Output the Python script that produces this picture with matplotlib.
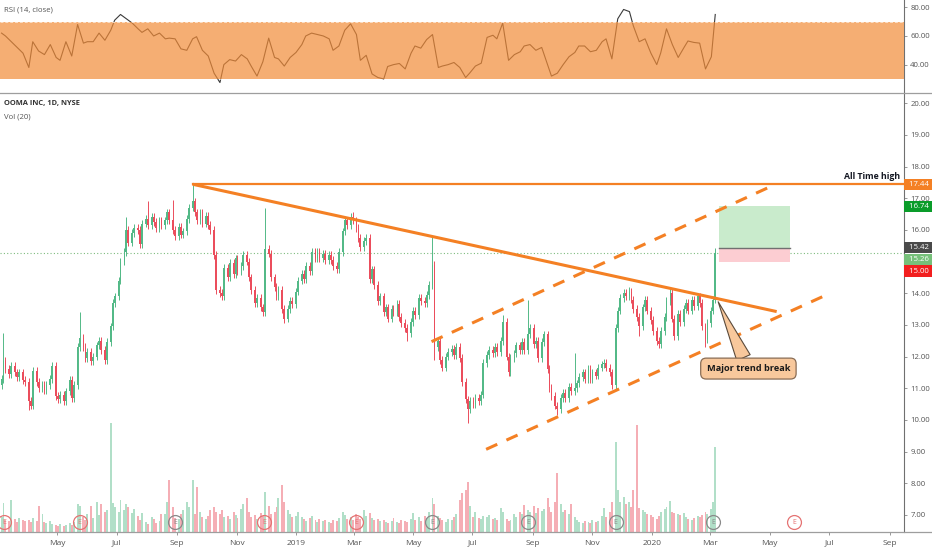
import pandas as pd
import matplotlib
matplotlib.use('Agg')
import matplotlib.pyplot as plt
import matplotlib.dates as mdates
import matplotlib.transforms as mtransforms
from matplotlib.patches import Rectangle
from matplotlib.lines import Line2D

plt.rcParams['font.family'] = ['Open Sans', 'DejaVu Sans']

# ---- data (one value per 2 trading days) ----
start = '2018-03-05'
first_open = 11.1
closes = [
    11.3, 11.85, 11.6, 11.45, 11.7, 11.5, 11.35, 11.5, 11.25, 11.2,
    10.6, 10.45, 11.55, 11.2, 11.0, 11.1, 10.95, 11.1, 11.3, 11.7,
    10.75, 10.65, 10.8, 10.6, 10.9, 11.25, 10.7, 11.1, 12.3, 12.6,
    12.3, 11.95, 12.15, 11.85, 12.0, 12.35, 12.5, 12.2, 11.9, 12.45,
    12.95, 13.7, 13.9, 14.4, 15.0, 15.3, 16.0, 15.6, 15.9, 16.05,
    16.0, 15.55, 16.2, 16.35, 16.15, 16.4, 16.25, 16.05, 16.3, 16.15,
    16.3, 16.55, 16.3, 16.0, 15.8, 16.1, 15.85, 15.95, 16.35, 16.7,
    16.9, 16.55, 16.3, 16.55, 16.2, 16.45, 16.15, 16.0, 15.2, 14.1,
    14.0, 13.9, 14.8, 14.5, 14.95, 14.6, 15.1, 14.7, 14.85, 15.2,
    15.0, 14.5, 14.1, 13.7, 13.85, 13.55, 13.4, 15.4, 15.25, 14.5,
    14.2, 13.9, 14.1, 13.5, 13.2, 13.5, 13.75, 13.65, 14.05, 14.4,
    14.6, 14.45, 14.85, 14.7, 15.3, 15.1, 15.3, 15.1, 15.25, 15.05,
    15.2, 15.05, 14.85, 14.75, 15.3, 15.95, 16.3, 16.15, 16.4, 16.3,
    16.05, 15.75, 15.45, 15.65, 15.75, 14.45, 14.75, 14.25, 13.75, 13.9,
    13.4, 13.55, 13.2, 13.5, 13.4, 13.65, 13.25, 13.05, 12.9, 12.75,
    13.1, 13.45, 13.3, 13.85, 13.75, 13.7, 13.95, 14.25, 14.9, 12.3,
    12.5, 11.9, 11.65, 12.0, 12.15, 12.25, 12.05, 12.3, 11.95, 11.2,
    10.65, 10.35, 10.6, 10.5, 10.7, 10.6, 10.8, 11.8, 12.05, 12.2,
    12.1, 12.3, 12.15, 12.5, 13.1, 12.0, 11.5, 11.95, 12.1, 12.35,
    12.2, 12.45, 12.2, 12.7, 12.9, 12.4, 12.5, 11.95, 12.45, 12.7,
    11.6, 11.0, 10.75, 10.45, 10.35, 10.7, 10.85, 10.7, 11.05, 10.9,
    11.0, 11.15, 11.35, 11.5, 11.3, 11.6, 11.3, 11.5, 11.4, 11.65,
    11.75, 11.8, 11.65, 11.5, 11.1, 12.9, 13.45, 13.85, 14.0, 13.9,
    14.05, 13.8, 13.5, 13.25, 12.95, 13.55, 13.8, 13.45, 13.15, 12.8,
    12.5, 12.4, 12.8, 13.25, 13.75, 14.0, 13.2, 12.65, 13.35, 13.1,
    13.5, 13.7, 13.45, 13.8, 13.6, 13.9, 13.7, 12.95, 12.55, 13.05,
    13.45, 13.8, 15.26,
]
# notable wicks (candle index -> price)
spike_high = {1: 12.75, 29: 13.4, 46: 16.4, 54: 16.9, 63: 16.95, 70: 17.44,
              97: 16.7, 129: 16.55, 158: 15.8, 184: 13.3, 193: 13.8,
              210: 12.1, 230: 14.2, 245: 14.2, 262: 15.42}
spike_low = {10: 10.3, 104: 13.07, 149: 12.5, 159: 11.9, 171: 9.9,
             204: 10.15, 234: 12.65, 258: 12.3}
wick = 0.12

# volume, thousands of shares
volumes = [
    150, 290, 120, 110, 320, 130, 100, 140, 120, 110,
    120, 100, 140, 110, 260, 180, 100, 90, 110, 80,
    70, 60, 80, 60, 70, 90, 70, 100, 280, 260,
    150, 120, 180, 260, 140, 300, 170, 280, 200, 220,
    1090, 290, 250, 200, 320, 220, 280, 250, 190, 230,
    160, 120, 190, 100, 80, 150, 130, 90, 110, 180,
    180, 300, 520, 250, 140, 130, 180, 220, 300, 250,
    520, 180, 450, 200, 150, 130, 160, 220, 250, 200,
    180, 220, 150, 160, 130, 200, 170, 140, 230, 280,
    340, 200, 150, 170, 130, 190, 160, 400, 260, 180,
    200, 250, 340, 470, 300, 220, 180, 150, 160, 200,
    150, 130, 110, 140, 160, 120, 100, 130, 110, 120,
    100, 90, 120, 110, 140, 200, 170, 130, 150, 120,
    180, 150, 130, 220, 160, 190, 140, 120, 130, 110,
    120, 100, 90, 110, 140, 100, 90, 120, 110, 100,
    130, 190, 120, 150, 110, 160, 140, 200, 340, 280,
    160, 140, 120, 100, 130, 120, 150, 180, 320, 390,
    420, 500, 260, 150, 200, 140, 130, 160, 150, 170,
    130, 140, 120, 240, 200, 130, 110, 120, 180, 150,
    200, 180, 270, 220, 200, 260, 190, 240, 210, 230,
    340, 250, 200, 300, 590, 280, 200, 220, 180, 280,
    150, 120, 100, 90, 110, 100, 90, 120, 100, 110,
    160, 240, 150, 200, 300, 900, 420, 300, 350, 280,
    300, 250, 420, 1070, 240, 220, 200, 180, 170, 150,
    130, 160, 200, 230, 250, 310, 200, 190, 180, 170,
    190, 150, 130, 120, 140, 160, 150, 170, 200, 180,
    230, 300, 850,
]

# RSI(14), one value per 4 trading days
rsi = [
    62, 60, 56, 52, 48, 38, 56, 49.5, 47, 54,
    45, 43, 56, 46, 68, 55, 56, 56, 62, 57,
    64, 71, 75, 72, 69, 65, 62.5, 65, 60, 62,
    58, 58.5, 58, 51, 50, 58, 59.5, 50, 46, 34,
    27.5, 40, 43.5, 42.5, 47, 44, 39, 32, 42, 58.5,
    45, 44, 39, 45, 48.5, 54, 60, 62, 61, 60,
    58, 50, 53, 64, 68.5, 61, 43, 46.5, 33.5, 31,
    30, 38.7, 40, 40.8, 37, 48, 53, 51.5, 57.5, 61,
    38, 39, 40, 41.5, 38, 31, 34, 39, 41, 59,
    60.5, 58, 69, 43, 47, 49, 53, 54, 50, 52,
    40, 32, 34, 40, 45.5, 48.5, 53, 53, 49, 50,
    56, 58, 44, 72, 78.5, 77, 67, 56, 58, 48,
    40, 48, 65, 54, 45, 52, 56.5, 55.5, 55, 37,
    45.5, 75,
]

# drawings on the chart
ath_date, ath_price = '2018-09-17', 17.44
trend_dates, trend_prices = ['2018-09-17', '2020-05-08'], [17.44, 13.42]
upper_dates, upper_prices = ['2019-05-20', '2020-05-04'], [12.47, 17.40]
lower_dates, lower_prices = ['2019-07-15', '2020-06-29'], [9.07, 13.96]
pos_dates = ['2020-03-10', '2020-05-22']
entry, target, stop = 15.42, 16.74, 15.00
last_price = 15.26

earn_dates = ['2018-03-08', '2018-05-24', '2018-08-30', '2018-11-29', '2019-03-04',
              '2019-05-21', '2019-08-27', '2019-11-25', '2020-03-04', '2020-05-26']
earn_missed = [True, True, False, True, True, False, False, False, False, True]

month_ticks = ['2018-05-01', '2018-07-01', '2018-09-01', '2018-11-01', '2019-01-01',
               '2019-03-01', '2019-05-01', '2019-07-01', '2019-09-01', '2019-11-01',
               '2020-01-01', '2020-03-01', '2020-05-01', '2020-07-01', '2020-09-01']
month_labels = ['May', 'Jul', 'Sep', 'Nov', '2019', 'Mar', 'May', 'Jul', 'Sep',
                'Nov', '2020', 'Mar', 'May', 'Jul', 'Sep']

# ---- build ----
UP, DOWN = '#53b987', '#eb4d5c'
ORANGE = '#f48024'

dates = pd.bdate_range(start, periods=len(closes), freq='2B')
xd = mdates.date2num(dates.to_pydatetime())
opens = [first_open] + closes[:-1]
highs, lows, cols = [], [], []
for i, (o, c) in enumerate(zip(opens, closes)):
    highs.append(spike_high.get(i, max(o, c) + wick))
    lows.append(spike_low.get(i, min(o, c) - wick))
    cols.append(UP if c >= o else DOWN)

def dn(s):
    return mdates.date2num(pd.Timestamp(s).to_pydatetime())

fig = plt.figure(figsize=(9.32, 5.5), dpi=100)
W, H = 932, 550
ax_rsi = fig.add_axes([0, 1 - 93 / H, 904 / W, 93 / H])
ax = fig.add_axes([0, 18 / H, 904 / W, (532 - 94) / H], sharex=ax_rsi)
ax_vol = ax.twinx()
ax.set_zorder(ax_vol.get_zorder() + 1)
ax.patch.set_visible(False)

x0 = dn('2019-01-01') - 296 / 0.975
ax.set_xlim(x0, x0 + 904 / 0.975)
ax.set_ylim(6.46, 20.29)
ax_vol.set_ylim(0, 4400)
ax_rsi.set_ylim(20.2, 85.1)

# volume
ax_vol.bar(xd, volumes, width=2.0, color=cols, alpha=0.45, linewidth=0)
ax_vol.set_yticks([])
for s in ax_vol.spines.values():
    s.set_visible(False)

# candles
ax.vlines(xd, lows, highs, colors=cols, linewidth=0.7, zorder=3)
bottoms = [min(o, c) for o, c in zip(opens, closes)]
heights = [max(abs(c - o), 0.02) for o, c in zip(opens, closes)]
ax.bar(xd, heights, bottom=bottoms, width=1.8, color=cols, linewidth=0, zorder=3)

# last price line
ax.axhline(last_price, color='#7dbb7f', lw=0.8, ls=(0, (1, 2)), zorder=1)

# trend lines
ax.plot([dn(ath_date), ax.get_xlim()[1]], [ath_price, ath_price], color=ORANGE, lw=1.6, zorder=4)
ax.plot([dn(d) for d in trend_dates], trend_prices, color=ORANGE, lw=2.2, zorder=4,
        solid_capstyle='butt')
for dts, prs in [(upper_dates, upper_prices), (lower_dates, lower_prices)]:
    ax.plot([dn(d) for d in dts], prs, color=ORANGE, lw=2.2, dashes=[4, 3.3], zorder=4)

# long position box
px0, px1 = dn(pos_dates[0]), dn(pos_dates[1])
ax.add_patch(Rectangle((px0, entry), px1 - px0, target - entry, fc='#c9ebcc', ec='none', zorder=2))
ax.add_patch(Rectangle((px0, stop), px1 - px0, entry - stop, fc='#fccdd2', ec='none', zorder=2))
ax.plot([px0, px1], [entry, entry], color='#707070', lw=1, zorder=2)

ltrans = mtransforms.blended_transform_factory(ax.transAxes, ax.transData)
ax.text(0.9956, 17.675, 'All Time high', transform=ltrans,
        ha='right', va='center', fontsize=6.3, fontweight='bold', color='#131722', zorder=6)

ax.annotate('Major trend break', xy=(dn('2020-03-09'), 13.73), xytext=(dn('2020-04-09'), 11.62),
            ha='center', va='center', fontsize=6.6, fontweight='bold', color='#1a1a1a', zorder=6,
            bbox=dict(boxstyle='round,pad=0.65,rounding_size=0.6', fc='#f8c89c', ec='#8a6d55', lw=0.9),
            arrowprops=dict(arrowstyle='wedge,tail_width=1.6', fc='#f8c89c', ec='#5b4a3a', lw=0.8,
                            shrinkA=0, shrinkB=0))

# earnings markers
etrans = mtransforms.blended_transform_factory(ax.transData, ax.transAxes)
for d, missed in zip(earn_dates, earn_missed):
    c = '#e57373' if missed else '#8a8a8a'
    ax.plot([dn(d)], [0.0228], 'o', transform=etrans, ms=10, mfc='none', mec=c, mew=0.9, zorder=5)
    ax.text(dn(d), 0.0228, 'E', transform=etrans, ha='center', va='center', fontsize=5, color=c, zorder=5)

# RSI
ax_rsi.plot(xd[::2], rsi, color='#3a3a3a', lw=0.8, zorder=2)
ax_rsi.axhspan(30, 70, color='#f28c38', alpha=0.7, lw=0, zorder=3)
for lvl in (30, 70):
    ax_rsi.axhline(lvl, color='white', alpha=0.6, lw=0.7, dashes=[3, 2], zorder=4)

# axes styling
for a in (ax, ax_rsi):
    for k in ('left', 'top', 'bottom'):
        a.spines[k].set_visible(False)
    a.spines['right'].set_color('#707070')
    a.spines['right'].set_linewidth(0.8)
    a.yaxis.tick_right()
    a.tick_params(axis='y', length=2.5, width=0.6, color='#888888', labelsize=5.6,
                  labelcolor='#555555', pad=2)

# the 15.00 tick label sits under the coloured tags, as on the reference
ax.set_yticks(range(7, 21))
ax.set_yticklabels(['' if v == 15 else f'{v:.2f}' for v in range(7, 21)])
ax_rsi.set_yticks([40, 60, 80])
ax_rsi.set_yticklabels(['40.00', '60.00', '80.00'])
ax_rsi.tick_params(axis='x', bottom=False, labelbottom=False)

ax.set_xticks([dn(d) for d in month_ticks])
ax.set_xticklabels(month_labels)
ax.tick_params(axis='x', length=2.5, width=0.6, color='#888888', labelsize=6,
               labelcolor='#555555', pad=3)

# coloured price labels on the scale
price_tags = [('17.44', 17.44, ORANGE), ('16.74', 16.74, '#0a9c2a'), ('15.42', 15.445, '#4a4a4a'),
              ('15.26', 15.07, '#76c07a'), ('15.00', 14.70, '#f21f1f')]
for txt, yv, c in price_tags:
    ax.text(1.0028, yv, ' ' + txt + ' ', transform=ltrans, ha='left', va='center', fontsize=5.6,
            color='white', clip_on=False, zorder=10,
            bbox=dict(boxstyle='square,pad=0.28', fc=c, ec='none'))

# panel separators
for yy in (93, 532):
    fig.add_artist(Line2D([0, 1], [1 - yy / H, 1 - yy / H], transform=fig.transFigure,
                          color='#9e9e9e', lw=0.9))

fig.text(4 / W, 1 - 10 / H, 'RSI (14, close)', fontsize=5.6, color='#555555', va='center')
fig.text(4 / W, 1 - 104 / H, 'OOMA INC, 1D, NYSE', fontsize=5.4, color='#333333',
         fontweight='bold', va='center')
fig.text(4 / W, 1 - 117 / H, 'Vol (20)', fontsize=5.6, color='#555555', va='center')

fig.savefig('out.png', dpi=100)
